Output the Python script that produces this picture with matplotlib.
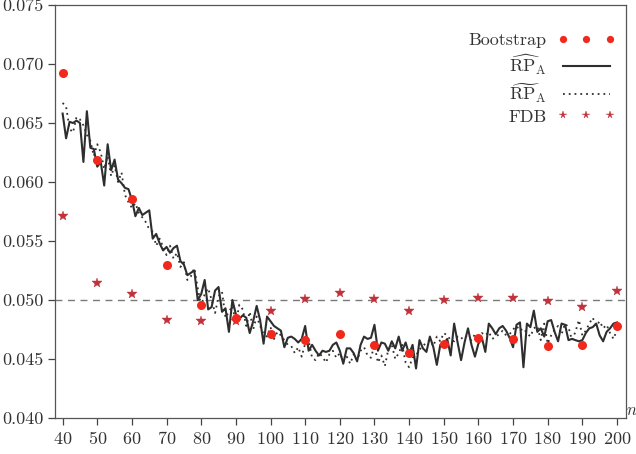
import matplotlib
matplotlib.use("Agg")
import matplotlib.pyplot as plt
from matplotlib.ticker import FormatStrFormatter, MultipleLocator

plt.rcParams['font.family'] = 'serif'
plt.rcParams['font.serif'] = ['cmr10', 'DejaVu Serif']
plt.rcParams['mathtext.fontset'] = 'cm'
plt.rcParams['axes.formatter.use_mathtext'] = True

# ---- data ----
n_boot = [40, 50, 60, 70, 80, 90, 100, 110, 120, 130, 140, 150, 160, 170, 180, 190, 200]
bootstrap = [0.0692, 0.0619, 0.0586, 0.0530, 0.0496, 0.0485, 0.0471, 0.0466, 0.0471,
             0.0462, 0.0455, 0.0463, 0.0468, 0.0467, 0.0461, 0.0462, 0.0478]
fdb = [0.0571, 0.0514, 0.0505, 0.0483, 0.0482, 0.0482, 0.0491, 0.0501, 0.0506,
       0.0501, 0.0491, 0.0500, 0.0502, 0.0502, 0.0499, 0.0494, 0.0508]

n_line = list(range(40, 201))
rp_hat = [
    0.0658, 0.0637, 0.0651, 0.0650, 0.0652, 0.0650, 0.0617, 0.0660, 0.0629, 0.0628,
    0.0613, 0.0617, 0.0597, 0.0632, 0.0610, 0.0619, 0.0602, 0.0599, 0.0595, 0.0594,
    0.0585, 0.0571, 0.0578, 0.0572, 0.0574, 0.0576, 0.0552, 0.0556, 0.0548, 0.0542,
    0.0545, 0.0540, 0.0544, 0.0546, 0.0533, 0.0530, 0.0521, 0.0523, 0.0525, 0.0500,
    0.0505, 0.0517, 0.0492, 0.0494, 0.0508, 0.0511, 0.0490, 0.0493, 0.0473, 0.0500,
    0.0488, 0.0484, 0.0487, 0.0485, 0.0472, 0.0482, 0.0495, 0.0483, 0.0463, 0.0486,
    0.0482, 0.0478, 0.0476, 0.0474, 0.0460, 0.0468, 0.0469, 0.0467, 0.0464, 0.0467,
    0.0478, 0.0457, 0.0462, 0.0457, 0.0453, 0.0457, 0.0456, 0.0457, 0.0462, 0.0464,
    0.0457, 0.0446, 0.0459, 0.0459, 0.0455, 0.0448, 0.0462, 0.0469, 0.0467, 0.0468,
    0.0479, 0.0457, 0.0464, 0.0463, 0.0457, 0.0465, 0.0459, 0.0469, 0.0457, 0.0464,
    0.0454, 0.0462, 0.0442, 0.0466, 0.0459, 0.0456, 0.0469, 0.0460, 0.0445, 0.0462,
    0.0463, 0.0467, 0.0453, 0.0480, 0.0464, 0.0449, 0.0464, 0.0476, 0.0462, 0.0452,
    0.0463, 0.0468, 0.0456, 0.0480, 0.0476, 0.0471, 0.0476, 0.0478, 0.0474, 0.0468,
    0.0460, 0.0479, 0.0481, 0.0443, 0.0480, 0.0477, 0.0491, 0.0473, 0.0476, 0.0469,
    0.0482, 0.0483, 0.0473, 0.0465, 0.0480, 0.0479, 0.0466, 0.0467, 0.0466, 0.0465,
    0.0466, 0.0472, 0.0476, 0.0477, 0.0480, 0.0470, 0.0465, 0.0473, 0.0476, 0.0480,
    0.0481,
]
rp_tilde = [
    0.0667, 0.0664, 0.0645, 0.0642, 0.0655, 0.0653, 0.0648, 0.0640, 0.0635, 0.0622,
    0.0632, 0.0625, 0.0611, 0.0622, 0.0605, 0.0614, 0.0600, 0.0608, 0.0589, 0.0583,
    0.0578, 0.0582, 0.0574, 0.0570, 0.0566, 0.0560, 0.0558, 0.0546, 0.0552, 0.0545,
    0.0538, 0.0546, 0.0535, 0.0540, 0.0528, 0.0532, 0.0517, 0.0520, 0.0527, 0.0510,
    0.0495, 0.0505, 0.0510, 0.0500, 0.0489, 0.0503, 0.0507, 0.0485, 0.0490, 0.0495,
    0.0480, 0.0496, 0.0492, 0.0478, 0.0490, 0.0475, 0.0486, 0.0478, 0.0471, 0.0469,
    0.0477, 0.0467, 0.0473, 0.0470, 0.0466, 0.0462, 0.0461, 0.0455, 0.0460, 0.0452,
    0.0463, 0.0466, 0.0451, 0.0449, 0.0455, 0.0452, 0.0447, 0.0454, 0.0457, 0.0451,
    0.0455, 0.0448, 0.0452, 0.0446, 0.0454, 0.0449, 0.0457, 0.0460, 0.0453, 0.0451,
    0.0462, 0.0447, 0.0453, 0.0444, 0.0458, 0.0462, 0.0450, 0.0455, 0.0462, 0.0447,
    0.0443, 0.0451, 0.0453, 0.0458, 0.0461, 0.0464, 0.0466, 0.0461, 0.0469, 0.0465,
    0.0472, 0.0470, 0.0466, 0.0465, 0.0469, 0.0467, 0.0470, 0.0468, 0.0466, 0.0471,
    0.0469, 0.0472, 0.0470, 0.0473, 0.0467, 0.0469, 0.0471, 0.0474, 0.0470, 0.0471,
    0.0475, 0.0478, 0.0474, 0.0476, 0.0472, 0.0469, 0.0476, 0.0478, 0.0466, 0.0480,
    0.0463, 0.0470, 0.0475, 0.0478, 0.0471, 0.0480, 0.0477, 0.0466, 0.0473, 0.0483,
    0.0470, 0.0474, 0.0480, 0.0485, 0.0478, 0.0482, 0.0476, 0.0479, 0.0472, 0.0467,
    0.0475,
]
nominal = 0.05
x_ticks = list(range(40, 201, 10))

# ---- figure ----
W, H = 636, 454
fig = plt.figure(figsize=(W / 100, H / 100), dpi=100)
ax = fig.add_axes([55 / W, 1 - 418 / H, (626 - 55) / W, (418 - 5) / H])

ax.axhline(nominal, color='#7a7a7a', lw=1.0, ls=(0, (5, 4)), zorder=1)
l_boot, = ax.plot(n_boot, bootstrap, ls='none', marker='o', ms=6.5,
                  color='#f0291c', mec='none', zorder=5, label='Bootstrap')
l_hat, = ax.plot(n_line, rp_hat, color='#2e2e2e', lw=1.5, zorder=3,
                 label=r'$\widehat{\mathrm{RP}}_{\mathrm{A}}$')
l_til, = ax.plot(n_line, rp_tilde, color='#2e2e2e', lw=1.3, ls=(0, (1, 2.2)), zorder=2,
                 label=r'$\widetilde{\mathrm{RP}}_{\mathrm{A}}$')
l_fdb, = ax.plot(n_boot, fdb, ls='none', marker='*', ms=7,
                 color='#c0333c', mec='#c0333c', mew=0.3, zorder=4, label='FDB')

ax.set_xlim(37.8, 202.6)
ax.set_ylim(0.040, 0.075)
ax.set_xticks(x_ticks)
ax.yaxis.set_major_locator(MultipleLocator(0.005))
ax.yaxis.set_major_formatter(FormatStrFormatter('%.3f'))
ax.tick_params(axis='both', direction='out', length=5, width=0.9,
               labelsize=13, colors='#444444', labelcolor='#333333')
ax.tick_params(axis='x', pad=4)
for s in ax.spines.values():
    s.set_color('#555555')
    s.set_linewidth(0.9)

leg = ax.legend(handles=[l_boot, l_hat, l_til, l_fdb], loc='upper right',
                frameon=False, markerfirst=False, numpoints=3, fontsize=13,
                handlelength=3.2, handletextpad=0.6, labelspacing=0.22,
                markerscale=0.8,
                borderaxespad=0.4, bbox_to_anchor=(1.006, 0.968))
for t in leg.get_texts():
    t.set_color('#333333')

fig.text(626 / W, 1 - 410 / H, r'$n$', fontsize=12, color='#333333', ha='left', va='center')

fig.savefig('out.png', dpi=100)
